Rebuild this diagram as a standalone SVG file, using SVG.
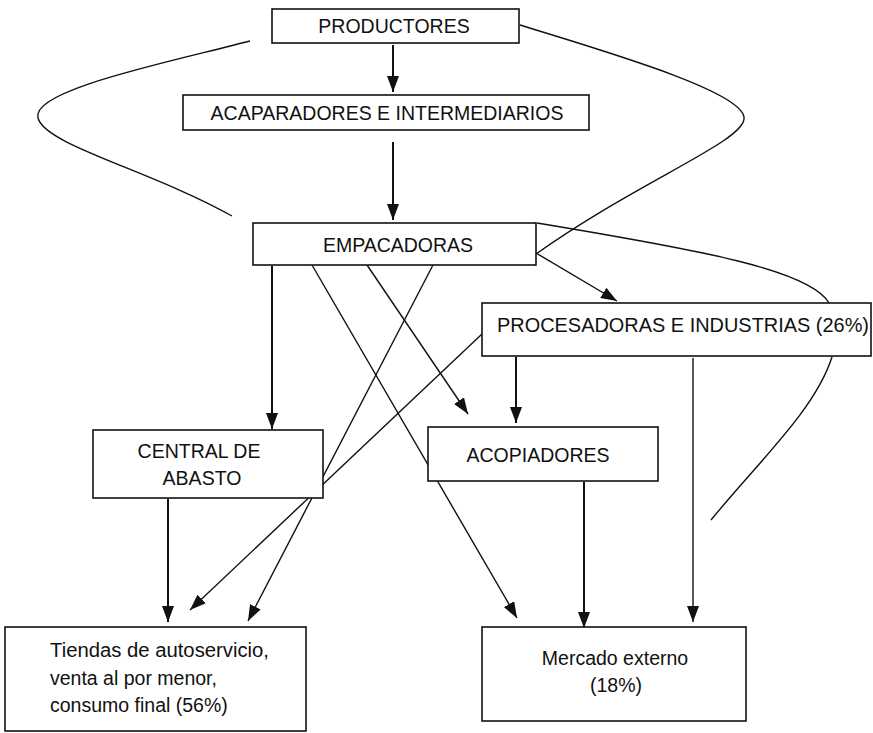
<svg xmlns="http://www.w3.org/2000/svg" width="873" height="733" viewBox="0 0 873 733">
  <defs>
    <style>
      .box { fill: #fff; stroke: #111; stroke-width: 1.6; }
      .lbl { font-family: "Liberation Sans", Arial, sans-serif; font-size: 19.5px; fill: #111; }
      .mid { text-anchor: middle; }
      .thick { stroke: #111; stroke-width: 2; fill: none; }
      .thin { stroke: #111; stroke-width: 1.4; fill: none; }
      .curve { stroke: #111; stroke-width: 1.4; fill: none; }
    </style>
    <marker id="arrowL" viewBox="0 0 16 12" refX="16" refY="6" markerWidth="16" markerHeight="12" markerUnits="userSpaceOnUse" orient="auto">
      <path d="M0,0 L16,6 L0,12 Z" fill="#111"/>
    </marker>
  </defs>

  <rect width="873" height="733" fill="#fff"/>

  <g id="connectors">
    <!-- open loops around the upper chain -->
    <path class="curve" d="M250,41 C170,62 30,90 38,118 C45,145 150,170 232,216"/>
    <path class="curve" d="M520,25 C600,50 740,90 744,117 C748,140 640,180 536,254"/>
    <path class="curve" d="M537,223 C700,250 810,270 829,303"/>
    <path class="curve" d="M832,357 C815,410 760,460 711,520"/>

    <!-- vertical flows -->
    <line class="thick" x1="393" y1="45" x2="393" y2="92" marker-end="url(#arrowL)"/>
    <line class="thick" x1="393" y1="142" x2="393" y2="220" marker-end="url(#arrowL)"/>
    <line class="thick" x1="272" y1="266" x2="272" y2="429" marker-end="url(#arrowL)"/>
    <line class="thick" x1="516" y1="357" x2="516" y2="423" marker-end="url(#arrowL)"/>
    <line class="thin" x1="693" y1="358" x2="693" y2="622" marker-end="url(#arrowL)"/>
    <line class="thick" x1="168" y1="499" x2="168" y2="622" marker-end="url(#arrowL)"/>
    <line class="thick" x1="584" y1="482" x2="584" y2="628" stroke-width="2.6" marker-end="url(#arrowL)"/>

    <!-- diagonal flows -->
    <line class="thin" x1="536" y1="253" x2="617" y2="301" marker-end="url(#arrowL)"/>
    <line class="thin" x1="312" y1="265" x2="517" y2="618" marker-end="url(#arrowL)"/>
    <line class="thin" x1="367" y1="265" x2="468" y2="414" marker-end="url(#arrowL)"/>
    <line class="thin" x1="433" y1="265" x2="248" y2="621" marker-end="url(#arrowL)"/>
    <line class="thin" x1="482" y1="334" x2="190" y2="610" marker-end="url(#arrowL)"/>
  </g>

  <g id="productores">
    <rect class="box" x="272" y="9" width="247" height="34"/>
    <text class="lbl mid" x="394" y="33">PRODUCTORES</text>
  </g>

  <g id="acaparadores">
    <rect class="box" x="183" y="95" width="406" height="35"/>
    <text class="lbl mid" x="387" y="120">ACAPARADORES E INTERMEDIARIOS</text>
  </g>

  <g id="empacadoras">
    <rect class="box" x="253" y="223" width="283" height="42"/>
    <text class="lbl mid" x="398" y="252">EMPACADORAS</text>
  </g>

  <g id="procesadoras">
    <rect class="box" x="482" y="303" width="389" height="53"/>
    <text class="lbl" x="497" y="332" textLength="372" lengthAdjust="spacingAndGlyphs">PROCESADORAS E INDUSTRIAS (26%)</text>
  </g>

  <g id="central">
    <rect class="box" x="93" y="430" width="230" height="68"/>
    <text class="lbl mid" x="199" y="458">CENTRAL DE</text>
    <text class="lbl mid" x="202" y="485">ABASTO</text>
  </g>

  <g id="acopiadores">
    <rect class="box" x="428" y="427" width="230" height="54"/>
    <text class="lbl mid" x="538" y="462">ACOPIADORES</text>
  </g>

  <g id="tiendas">
    <rect class="box" x="5" y="627" width="301" height="104"/>
    <text class="lbl" x="50" y="657" textLength="219" lengthAdjust="spacingAndGlyphs">Tiendas de autoservicio,</text>
    <text class="lbl" x="50" y="685">venta al por menor,</text>
    <text class="lbl" x="50" y="712">consumo final (56%)</text>
  </g>

  <g id="mercado">
    <rect class="box" x="482" y="627" width="264" height="94"/>
    <text class="lbl mid" x="615" y="665">Mercado externo</text>
    <text class="lbl mid" x="616" y="692">(18%)</text>
  </g>
</svg>
